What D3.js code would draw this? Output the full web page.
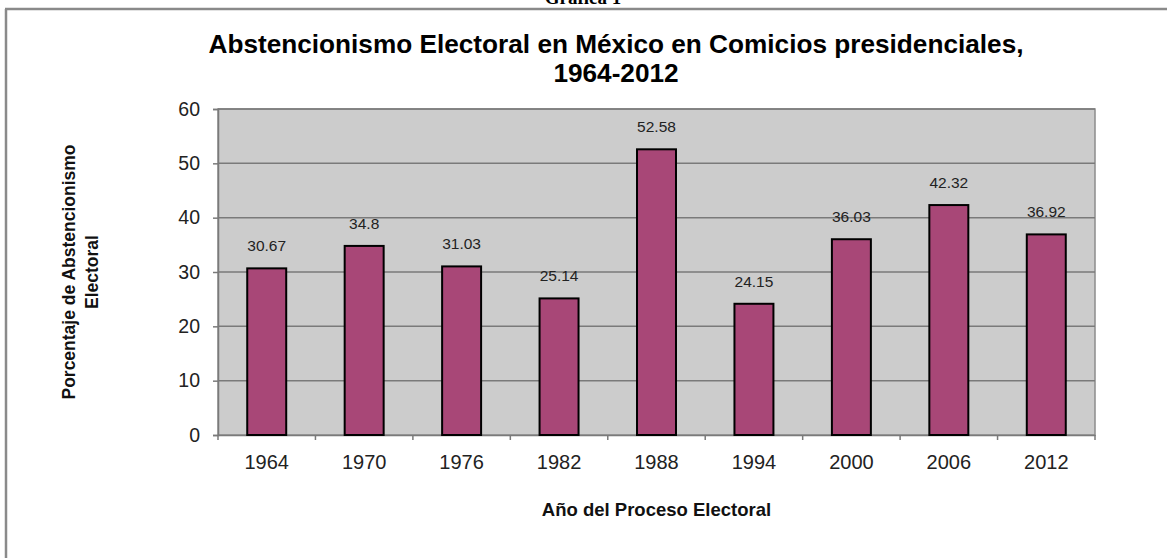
<!DOCTYPE html>
<html><head><meta charset="utf-8">
<script src="https://cdn.jsdelivr.net/npm/d3@7"></script>
<style>body{margin:0;background:#fff}svg{display:block}text{font-family:"Liberation Sans",Arial,sans-serif}</style>
</head><body>
<script>
const years = ["1964","1970","1976","1982","1988","1994","2000","2006","2012"];
const values = [30.67, 34.8, 31.03, 25.14, 52.58, 24.15, 36.03, 42.32, 36.92];
const valueLabels = ["30.67","34.8","31.03","25.14","52.58","24.15","36.03","42.32","36.92"];
const yTicks = [0,10,20,30,40,50,60];
const titleLines = ["Abstencionismo Electoral en México en Comicios presidenciales,","1964-2012"];
const yTitleLines = ["Porcentaje de Abstencionismo","Electoral"];
const xTitle = "Año del Proceso Electoral";

const W=1167,H=558;
const svg=d3.select("body").append("svg").attr("width",W).attr("height",H);
const m={l:218,r:1095,t:109,b:435};
const x=d3.scaleBand().domain(years).range([m.l,m.r]).paddingInner(0.6).paddingOuter(0.3);
const y=d3.scaleLinear().domain([0,60]).range([m.b,m.t]);

// frame
svg.append("text").attr("x",583).attr("y",4).attr("text-anchor","middle")
  .style("font-family","'Liberation Serif',serif").style("font-weight","bold").style("font-size","19px").text("Gráfica 1");
svg.append("line").attr("x1",5).attr("x2",W).attr("y1",9).attr("y2",9).attr("stroke","#8a8a8a").attr("stroke-width",2.5);
svg.append("line").attr("x1",6).attr("x2",6).attr("y1",9).attr("y2",H).attr("stroke","#8a8a8a").attr("stroke-width",2.5);

// plot bg
svg.append("rect").attr("x",m.l).attr("y",m.t).attr("width",m.r-m.l).attr("height",m.b-m.t).attr("fill","#cccccc")
  .attr("stroke","#8c8c8c").attr("stroke-width",1.5);
// grid
svg.append("g").selectAll("line").data(yTicks.filter(d=>d>0)).join("line")
  .attr("x1",m.l).attr("x2",m.r).attr("y1",d=>y(d)).attr("y2",d=>y(d)).attr("stroke","#7a7a7a").attr("stroke-width",1.5);

// y axis
const ya=svg.append("g").attr("transform",`translate(${m.l},0)`).call(d3.axisLeft(y).tickValues(yTicks).tickSize(5).tickPadding(13));
ya.select(".domain").attr("stroke","#7a7a7a").attr("stroke-width",1.5);
ya.selectAll(".tick line").attr("stroke","#7a7a7a").attr("stroke-width",1.5);
ya.selectAll("text").style("font-size","19.5px").attr("fill","#222");

// x axis
const xa=svg.append("g").attr("transform",`translate(0,${m.b})`).call(d3.axisBottom(x).tickSize(0).tickPadding(20));
xa.select(".domain").attr("stroke","#7a7a7a").attr("stroke-width",1.5);
xa.selectAll("text").style("font-size","20px").attr("fill","#222");
const bounds=d3.range(years.length+1).map(i=>m.l+i*(m.r-m.l)/years.length);
svg.append("g").selectAll("line").data(bounds).join("line")
  .attr("x1",d=>d).attr("x2",d=>d).attr("y1",m.b).attr("y2",m.b+5).attr("stroke","#7a7a7a").attr("stroke-width",1.5);

// bars
svg.append("g").selectAll("rect").data(values).join("rect")
  .attr("x",(d,i)=>x(years[i])).attr("width",x.bandwidth())
  .attr("y",d=>y(d)).attr("height",d=>y(0)-y(d))
  .attr("fill","#a84777").attr("stroke","#000").attr("stroke-width",2);
svg.append("g").selectAll("text").data(values).join("text")
  .attr("x",(d,i)=>x(years[i])+x.bandwidth()/2).attr("y",d=>y(d)-17)
  .attr("text-anchor","middle").style("font-size","15.5px").attr("fill","#222")
  .text((d,i)=>valueLabels[i]);

// titles
svg.append("g").selectAll("text").data(titleLines).join("text")
  .attr("x",616).attr("y",(d,i)=>53+i*29).attr("text-anchor","middle")
  .style("font-weight","bold").style("font-size","26.2px").attr("fill","#000").text(d=>d);
svg.append("text").attr("x",(m.l+m.r)/2).attr("y",516).attr("text-anchor","middle")
  .style("font-weight","bold").style("font-size","18.5px").attr("fill","#111").text(xTitle);
svg.append("g").selectAll("text").data(yTitleLines).join("text")
  .attr("transform",(d,i)=>`translate(${75+i*23},${(m.t+m.b)/2}) rotate(-90)`).attr("text-anchor","middle")
  .style("font-weight","bold").style("font-size","17.5px").attr("fill","#111").text(d=>d);
</script>
</body></html>
